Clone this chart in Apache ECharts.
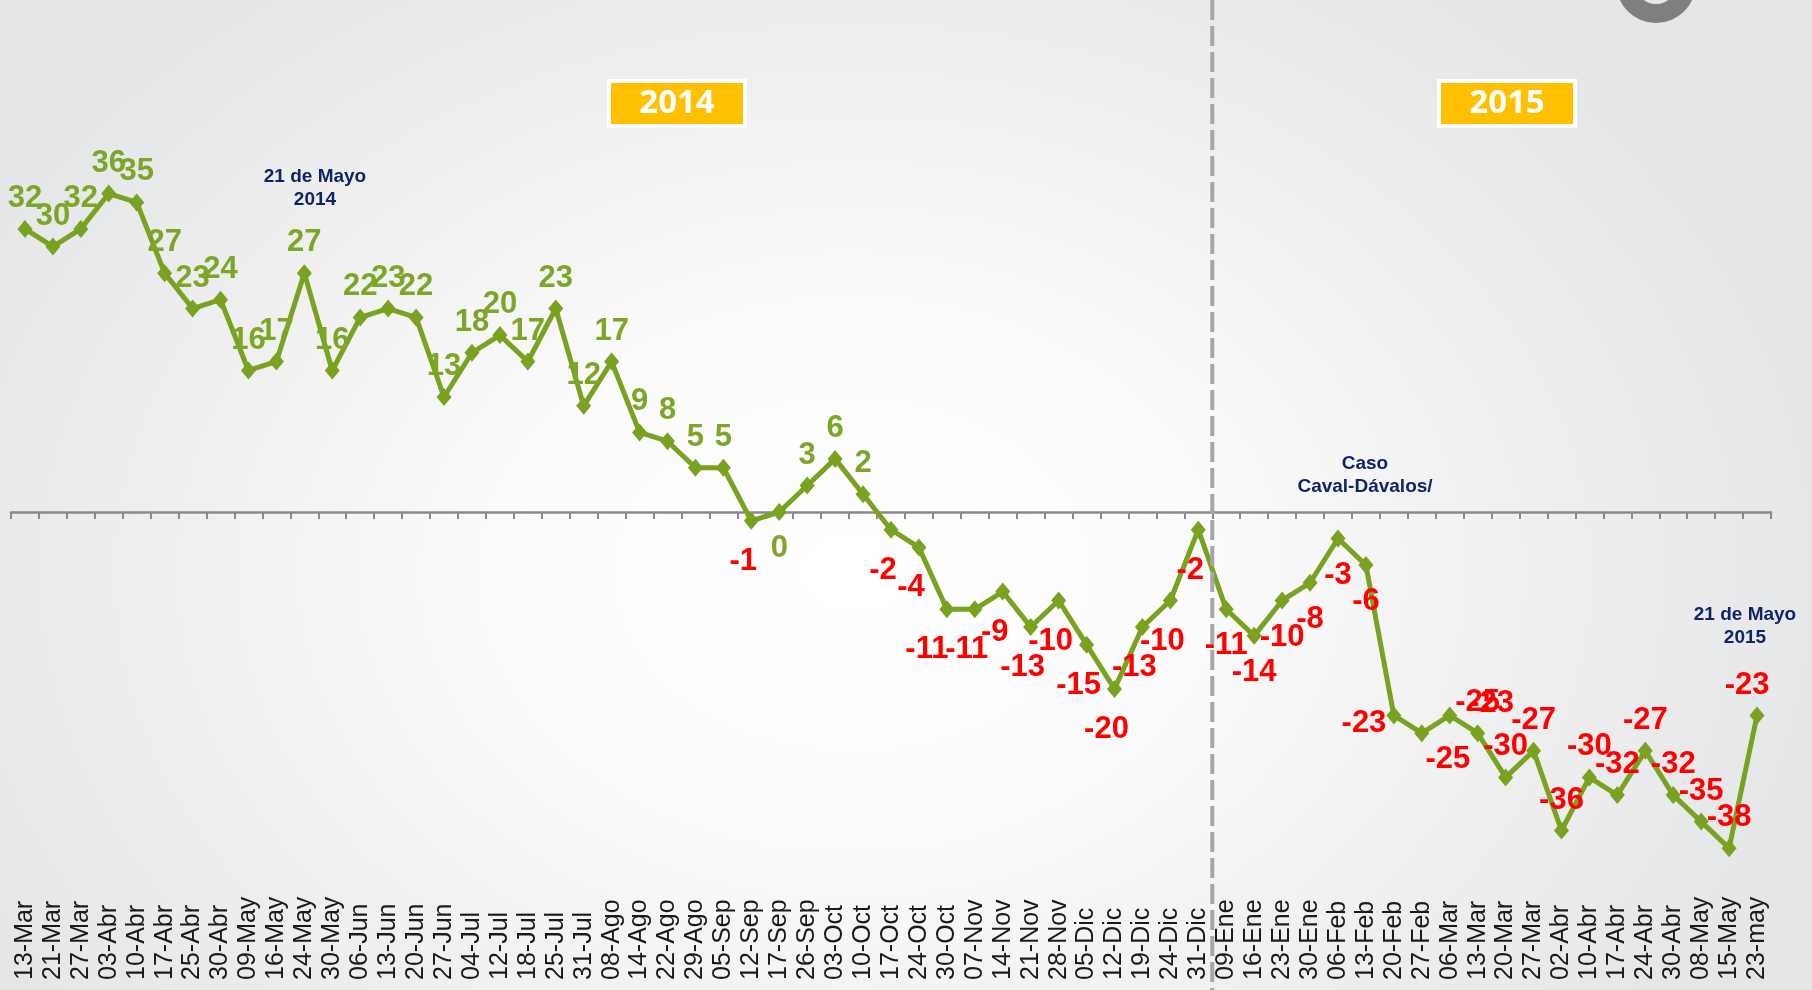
<!DOCTYPE html>
<html>
<head>
<meta charset="utf-8">
<script src="https://cdn.jsdelivr.net/npm/echarts@6/dist/echarts.min.js"></script>
<style>
html,body{margin:0;padding:0;}
#c{width:1812px;height:990px;background:radial-gradient(ellipse 55% 75% at 47% 58%, #ffffff 0%, #fbfbfb 35%, #eeeeef 72%, #e5e6e8 100%);}
</style>
</head>
<body>
<div id="c"></div>
<script>
// ---- data ----
const categories = [
  '13-Mar','21-Mar','27-Mar','03-Abr','10-Abr','17-Abr','25-Abr','30-Abr','09-May','16-May',
  '24-May','30-May','06-Jun','13-Jun','20-Jun','27-Jun','04-Jul','12-Jul','18-Jul','25-Jul',
  '31-Jul','08-Ago','14-Ago','22-Ago','29-Ago','05-Sep','12-Sep','17-Sep','26-Sep','03-Oct',
  '10-Oct','17-Oct','24-Oct','30-Oct','07-Nov','14-Nov','21-Nov','28-Nov','05-Dic','12-Dic',
  '19-Dic','24-Dic','31-Dic',
  '09-Ene','16-Ene','23-Ene','30-Ene','06-Feb','13-Feb','20-Feb','27-Feb','06-Mar','13-Mar',
  '20-Mar','27-Mar','02-Abr','10-Abr','17-Abr','24-Abr','30-Abr','08-May','15-May','23-may'
];
const values = [
  32,30,32,36,35,27,23,24,16,17,
  27,16,22,23,22,13,18,20,17,23,
  12,17,9,8,5,5,-1,0,3,6,
  2,-2,-4,-11,-11,-9,-13,-10,-15,-20,
  -13,-10,-2,
  -11,-14,-10,-8,-3,-6,-23,-25,-23,-25,
  -30,-27,-36,-30,-32,-27,-32,-35,-38,-23
];
const yearTags = ['2014', '2015'];
const firstIndex2015 = categories.indexOf('09-Ene');
const noteMayo2014 = '21 de Mayo\n2014';
const noteCaval = 'Caso\nCaval-Dávalos/';
const noteMayo2015 = '21 de Mayo\n2015';

// ---- styles ----
const GREEN = '#78a21f';
const GREEN_TXT = '#7da527';
const RED = '#ff0000';
const NAVY = '#0f2566';
const LABEL_FONT = "'Liberation Sans',Arial,sans-serif";

function labelFor(v, i) {
  const lab = { color: v < 0 ? RED : GREEN_TXT };
  const k = i - firstIndex2015;
  if (v > 0) { lab.position = 'top'; lab.distance = 6; }
  else {
    lab.position = 'bottom'; lab.distance = 12;
    if (k < 0 && v < 0) lab.offset = [-8, 4];
  }
  if (categories[i] === '30-Oct') lab.offset = [-20, 4];
  if (k === 6) { lab.position = 'left'; lab.distance = 0; lab.offset = [0, 8]; }
  else if (k === 7) { lab.position = 'bottom'; lab.distance = 2; lab.offset = [26, 0]; }
  else if (k === 8) { lab.position = 'right'; lab.distance = 12; lab.offset = [0, -12]; }
  else if (k >= 9) { lab.position = 'top'; lab.distance = 6; }
  if (i === categories.length - 1) lab.offset = [-10, 0];
  return lab;
}

const chart = echarts.init(document.getElementById('c'), null, { renderer: 'canvas' });
const option = {
  backgroundColor: 'transparent',
  animation: false,
  grid: { left: 11, right: 41, top: 52, bottom: 18, containLabel: false },
  xAxis: [
    {
      type: 'category', data: categories, position: 'bottom', boundaryGap: true,
      axisLine: { show: false, onZero: false }, axisTick: { show: false },
      axisLabel: {
        show: true, interval: 0, rotate: 90, align: 'left', verticalAlign: 'middle',
        margin: 8, fontFamily: "'Liberation Sans',Arial,sans-serif", fontSize: 25, color: '#1a1a1a'
      },
      splitLine: { show: false }
    },
    {
      type: 'category', data: categories, position: 'top', boundaryGap: true,
      axisLine: { show: true, onZero: true, lineStyle: { color: '#8a8a8a', width: 2.5 } },
      axisTick: { show: true, inside: true, length: 7, interval: 0, lineStyle: { color: '#8a8a8a', width: 2 } },
      axisLabel: { show: false }, splitLine: { show: false }
    }
  ],
  yAxis: {
    type: 'value', min: -52, max: 52, show: false,
    splitLine: { show: false }
  },
  series: [{
    type: 'line',
    xAxisIndex: 0,
    yAxisIndex: 0,
    data: values.map((v, i) => ({ value: v, label: labelFor(v, i) })),
    symbol: 'diamond',
    symbolSize: [15, 18],
    lineStyle: { color: GREEN, width: 5 },
    itemStyle: { color: GREEN },
    z: 3,
    label: {
      show: true, fontFamily: LABEL_FONT, fontWeight: 'bold', fontSize: 31
    }
  }]
};
chart.setOption(option);

// vertical year separator at the boundary between last 2014 and first 2015 category
const xa = chart.convertToPixel({ xAxisIndex: 0 }, categories[firstIndex2015 - 1]);
const xb = chart.convertToPixel({ xAxisIndex: 0 }, categories[firstIndex2015]);
const sepX = (xa + xb) / 2;

function yearBox(id, x, text) {
  return [
    { type: 'rect', id: id + 'w', shape: { x: x - 4, y: 79, width: 140, height: 49 }, style: { fill: '#ffffff' }, z: 20 },
    { type: 'rect', id: id + 'y', shape: { x: x, y: 83, width: 132, height: 41 }, style: { fill: '#FFC000' }, z: 21 },
    { type: 'text', id: id + 't', x: x + 66, y: 104, z: 22,
      style: { text: text, fill: '#ffffff', font: "bold 33px 'Open Sans','Liberation Sans',sans-serif", textAlign: 'center', textVerticalAlign: 'middle' } }
  ];
}
function note(id, x, y, text) {
  return { type: 'text', id: id, x: x, y: y, z: 15,
    style: { text: text, fill: NAVY, font: "bold 19px 'Liberation Sans',Arial,sans-serif", textAlign: 'center', textVerticalAlign: 'top', lineHeight: 23 } };
}

chart.setOption({
  graphic: [
    { type: 'line', id: 'sep', z: 30,
      shape: { x1: sepX, y1: 0, x2: sepX, y2: 990 },
      style: { stroke: '#a6a6a6', lineWidth: 4, lineDash: [20, 6] } },
    { type: 'ring', id: 'logo', z: 5, shape: { cx: 1656, cy: -17, r: 40, r0: 21 }, style: { fill: '#7f7f7f' } },
    ...yearBox('y14', 611, yearTags[0]),
    ...yearBox('y15', 1441, yearTags[1]),
    note('n1', 315, 165, noteMayo2014),
    note('n2', 1365, 452, noteCaval),
    note('n3', 1745, 603, noteMayo2015)
  ]
});
</script>
</body>
</html>
